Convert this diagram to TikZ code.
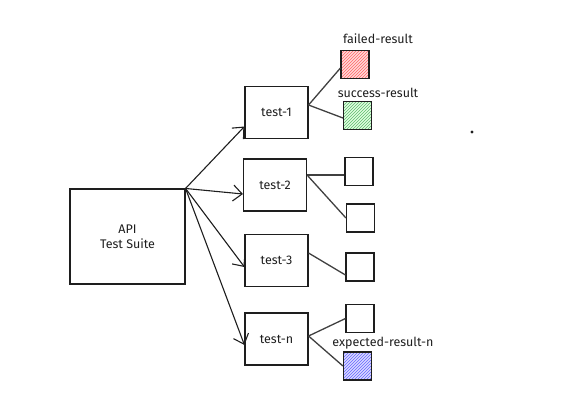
\documentclass[tikz,border=0pt]{standalone}
\usepackage{fontspec}
\setmainfont{Fira Sans}
\usepackage{xcolor}
\usetikzlibrary{arrows.meta,positioning,calc,patterns}

\definecolor{ink}{HTML}{1E1E1E}
\definecolor{hatchgreen}{RGB}{95,185,110}

\begin{document}
\begin{tikzpicture}[
    x=1pt, y=-1pt,
    every node/.style={font=\fontsize{12.5}{15}\selectfont, text=ink},
    suite/.style={rectangle, draw=ink, line width=1.1pt, minimum width=115pt, minimum height=95pt, align=center},
    testbox/.style={rectangle, draw=ink, line width=1.1pt, minimum width=63pt, minimum height=52pt},
    resbox/.style={rectangle, draw=ink, line width=1.1pt, minimum width=28pt, minimum height=28pt},
    failbox/.style={resbox, preaction={fill=red!15}, pattern=north east lines, pattern color=red!60},
    passbox/.style={resbox, preaction={fill=green!12}, pattern=north east lines, pattern color=hatchgreen},
    expbox/.style={resbox, preaction={fill=blue!15}, pattern=north east lines, pattern color=blue!60},
    call/.style={draw=ink, line width=1.1pt, -{Straight Barb[length=9pt,width=16pt,line width=1.1pt]}},
    link/.style={draw=ink!85, line width=1.3pt}
]
\useasboundingbox (0,0) rectangle (581,416);

\node[suite] (api) at (127.5,236.5) {API\\Test Suite};

\node[testbox] (t1) at (276.5,112.5) {test-1};
\node[testbox] (t2) at (275,185) {test-2};
\node[testbox] (t3) at (276.5,260.5) {test-3};
\node[testbox] (tn) at (276.5,339) {test-n};

\node[failbox] (rf) at (355,64.5) {};
\node[passbox] (rs) at (357.5,115.5) {};
\node[resbox] (r2a) at (359,171.5) {};
\node[resbox] (r2b) at (360.5,218) {};
\node[resbox] (r3) at (360,267) {};
\node[resbox] (rn1) at (360,318.5) {};
\node[expbox] (rn2) at (357.5,366) {};

\node (lf) at (378,39) {failed-result};
\node (ls) at (378,93) {success-result};
\node (ln) at (383,343) {expected-result-n};

% suite -> tests
\draw[call] (api.north east) -- ([yshift=-14pt]t1.west);
\draw[call] (api.north east) -- ([yshift=-9pt]t2.west);
\draw[call] (api.north east) -- ([yshift=-6.5pt]t3.west);
\draw[call] (api.north east) -- ([yshift=-6pt]tn.west);

% tests -> results
\draw[link] ([yshift=7.5pt]t1.east) -- ([yshift=-3.5pt]rf.west);
\draw[link] ([yshift=7.5pt]t1.east) -- ([yshift=-2.5pt]rs.west);
\draw[link] ([yshift=10pt]t2.east) -- ([yshift=-3.5pt]r2a.west);
\draw[link] ([yshift=10pt]t2.east) -- (r2b.west);
\draw[link] ([yshift=7.5pt]t3.east) -- ([yshift=-8pt]r3.west);
\draw[link] ([yshift=3pt]tn.east) -- (rn1.west);
\draw[link] ([yshift=3pt]tn.east) -- (rn2.west);

\fill[ink] (472,132) circle (1.6pt);
\end{tikzpicture}
\end{document}
